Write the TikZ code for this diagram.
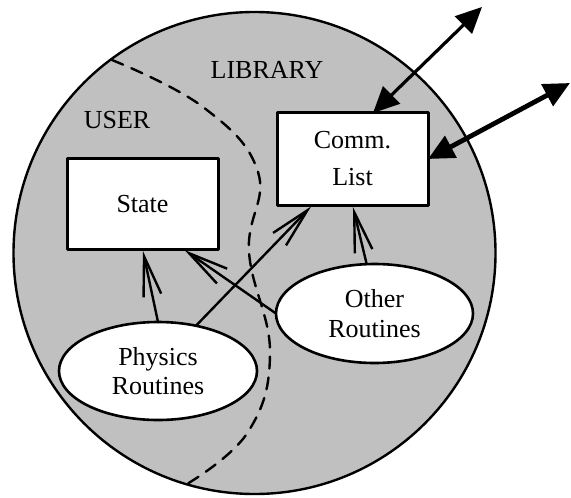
\documentclass[tikz,border=0pt]{standalone}
\usepackage{fontspec}
\setmainfont{Liberation Serif}
\usetikzlibrary{arrows.meta,shapes.geometric}
\definecolor{libgray}{RGB}{192,192,192}

\begin{document}
\begin{tikzpicture}[line cap=round,line join=round,x=0.5pt,y=-0.5pt,
  every node/.style={font=\fontsize{13}{14.5}\selectfont,inner sep=0pt,outer sep=0pt},
  box/.style={draw,fill=white,line width=1.5pt,minimum width=75.5pt,minimum height=46pt,align=center},
  routine/.style={draw,fill=white,ellipse,line width=1.3pt,minimum width=99pt,minimum height=49pt,align=center},
  uses/.style={-{Straight Barb[length=20pt,width=9pt]},line width=1.2pt,shorten >=1pt},
  link/.style={{Triangle[length=13pt,width=12pt]}-{Triangle[length=13pt,width=12pt]}}]
\useasboundingbox (0,0) rectangle (571,497);
%\draw [help lines, step=50] (0,0) grid (571,497);
\fill[libgray] (254.5,253) circle [radius=120.5pt];
\draw[line width=1.2pt] (254.5,253) circle [radius=120.5pt];
% user / library border
\draw[line width=1.2pt,dash pattern=on 6pt off 4.5pt] plot[smooth,tension=0.7] coordinates
  {(112,60) (203,107) (258,172) (249,252) (270,352) (248,432) (187,484)};
\node (library) at (267,70) {LIBRARY};
\node (user) at (117,120) {USER};
\node[box] (comm) at (352.5,159) {Comm.\\[4pt]List};
\node[box,minimum height=45pt] (state) at (142.5,204) {State};
\node[routine] (phys) at (158,371) {Physics\\Routines};
\node[routine,minimum width=98.5pt,minimum height=49.5pt] (other) at (374.5,313.5) {Other\\[0.5pt]Routines};
\coordinate (netA) at (482,7);
\coordinate (netB) at (570,83);
\draw[uses] (phys.north) -- (state.south);
\draw[uses] (other.west) -- (state.-48);
\draw[uses] (phys.50) -- (comm.229);
\draw[uses] (other.99) -- (comm.south);
\draw[link,line width=1.6pt] (comm.66) -- (netA);
\draw[link,line width=2.4pt] (comm.east) -- (netB);
\end{tikzpicture}
\end{document}
